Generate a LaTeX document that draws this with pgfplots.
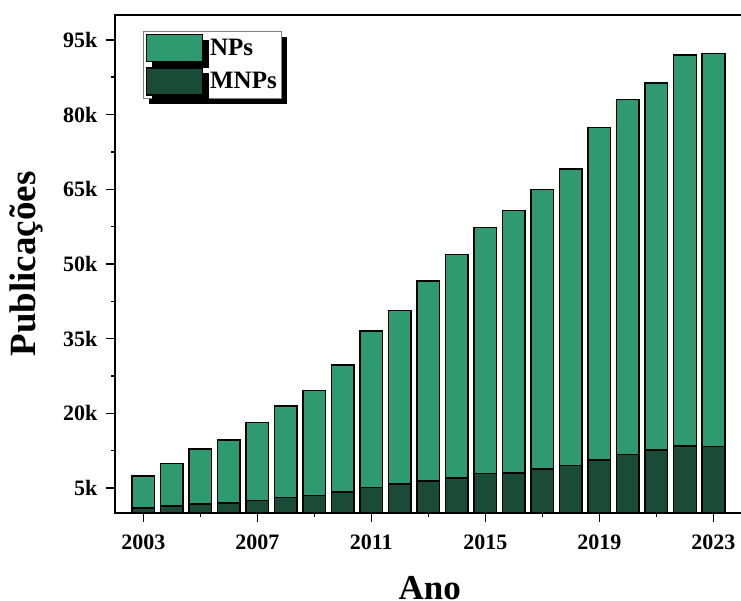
\documentclass[border=0pt]{standalone}
\usepackage{pgfplots}
\pgfplotsset{compat=1.18}
\usepackage{fontspec}
\setmainfont{Liberation Serif}
\usetikzlibrary{shadows}
\definecolor{npcol}{HTML}{2F9A6F}
\definecolor{mnpcol}{HTML}{1A4A38}
\begin{document}
\begin{tikzpicture}
\useasboundingbox (-114.8pt,-88pt) rectangle (626.2pt,513pt);
\begin{axis}[
  scale only axis,
  width=629.9pt, height=498pt,
  xmin=2002, xmax=2024.1,
  ymin=0, ymax=100000,
  axis line style={line width=2pt},
  tick align=outside,
  xtick={2003,2007,2011,2015,2019,2023},
  xticklabels={2003,2007,2011,2015,2019,2023},
  ytick={5000,20000,35000,50000,65000,80000,95000},
  yticklabels={5k,20k,35k,50k,65k,80k,95k},
  minor x tick num=1,
  minor y tick num=1,
  xtick pos=bottom, ytick pos=left,
  major tick length=9pt,
  minor tick length=4pt,
  every tick/.style={line width=1.5pt, black},
  tick label style={font=\fontsize{22}{26}\selectfont\bfseries},
  xticklabel style={yshift=-9pt},
  yticklabel style={xshift=-5pt},
  xlabel={Ano},
  ylabel={Publicações},
  xlabel style={font=\fontsize{35}{40}\selectfont\bfseries, yshift=-20pt},
  ylabel style={font=\fontsize{37}{42}\selectfont\bfseries, yshift=13pt},
  legend style={at={(axis description cs:0.0443,0.9685)}, anchor=north west,
    draw=gray, line width=0.8pt, fill=white,
    drop shadow={shadow xshift=6pt, shadow yshift=-6pt, fill=black, opacity=1},
    font=\fontsize{25}{28}\selectfont\bfseries,
    inner sep=2.5pt, row sep=5pt, column sep=0pt,
    nodes={inner ysep=1pt, inner xsep=2pt}},
  legend cell align=left,
  legend image code/.code={\draw[#1, line width=1.5pt] (0pt,-13.5pt) rectangle (56pt,13.5pt);},
]
\addplot[ybar, bar width=0.8, bar shift=0pt, fill=npcol, draw=black, line width=1.5pt] coordinates {
(2003,7430) (2004,9900) (2005,12900) (2006,14700) (2007,18200) (2008,21500)
(2009,24600) (2010,29700) (2011,36500) (2012,40700) (2013,46600) (2014,51900)
(2015,57300) (2016,60700) (2017,65000) (2018,69100) (2019,77400) (2020,83000)
(2021,86300) (2022,92000) (2023,92300)};
\addlegendentry{\hspace{5pt}NPs}
\addplot[ybar, bar width=0.8, bar shift=0pt, fill=mnpcol, draw=black, line width=1.5pt] coordinates {
(2003,1000) (2004,1400) (2005,1800) (2006,2000) (2007,2550) (2008,3070)
(2009,3550) (2010,4200) (2011,5100) (2012,5800) (2013,6400) (2014,7000)
(2015,7900) (2016,8000) (2017,8800) (2018,9500) (2019,10600) (2020,11700)
(2021,12600) (2022,13500) (2023,13400)};
\addlegendentry{\hspace{5pt}MNPs}
\end{axis}
\end{tikzpicture}
\end{document}
